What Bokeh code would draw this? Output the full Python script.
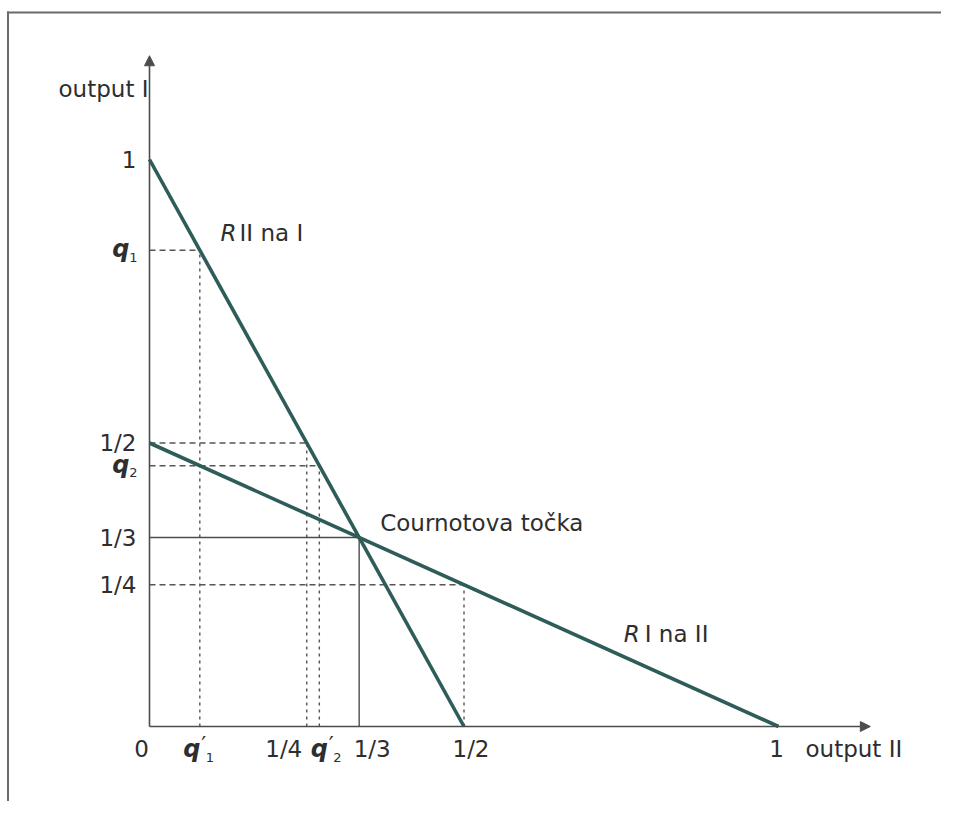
from bokeh.plotting import figure
from bokeh.models import ColumnDataSource, Arrow, NormalHead, Range1d
from bokeh.core.properties import value
from bokeh.embed import file_html
from bokeh.resources import INLINE

# ---------------- data ----------------
# reaction functions (straight lines between intercepts)
r2on1_x = [0.0, 0.5]      # R II na I
r2on1_y = [1.0, 0.0]
r1on2_x = [0.0, 1.0]      # R I na II
r1on2_y = [0.5, 0.0]
# cobweb outputs
q1p = 0.08
q1 = 0.84
q2 = 0.46
q2p = 0.27
# Cournot point
cournot_x = [1 / 3]
cournot_y = [1 / 3]
# dashed guide points (projected onto both axes)
guide_x = [q1p, 0.25, q2p, 0.5]
guide_y = [q1, 0.5, q2, 0.25]
# tick labels
y_tick_vals = [1.0, 0.5, 1 / 3, 0.25]
y_tick_labels = ["1", "1/2", "1/3", "1/4"]
x_tick_vals = [0.0, 0.25, 1 / 3, 0.5, 1.0]
x_tick_labels = ["0", "1/4", "1/3", "1/2", "1"]
yq_vals = [q1, q2]
yq_subs = ["1", "2"]
xq_vals = [q1p, q2p]
xq_subs = ["1", "2"]
axis_x_end = 1.146
axis_y_end = 1.183
label_r2on1 = (0.113, 0.871)
label_r1on2 = (0.754, 0.164)

# ---------------- styles / layout ----------------
W, H = 941, 801
UX, UY = 629.0, 567.0          # px per unit
OX, OY = 149.0, 726.0          # origin in canvas px
X0, X1 = -OX / UX, (W - OX) / UX
Y1, Y0 = OY / UY, (OY - H) / UY

TEAL = "#2e5c59"
AXIS = "#4d4d4d"
GUIDE = "#555555"
TXT = "#2e2e2e"
FONT = value("DejaVu Sans")
FS = "23px"

p = figure(width=W, height=H, x_range=Range1d(X0, X1), y_range=Range1d(Y0, Y1),
           x_axis_location=None, y_axis_location=None, toolbar_location=None,
           output_backend="svg", min_border=0)
p.outline_line_color = None
p.grid.grid_line_color = None
p.background_fill_color = "white"
p.border_fill_color = "white"

# frame border (top and left edges of the scanned figure box), derived from the ranges
bx = X0 + 7.5 / UX
by = Y1 - 12 / UY
p.segment(x0=[bx, bx], y0=[by, by], x1=[X1, bx], y1=[by, Y0],
          line_color="#6a6a6a", line_width=2, line_cap="square")

# dashed guides
gsrc = ColumnDataSource(dict(gx=guide_x, gy=guide_y, zero=[0.0] * len(guide_x)))
p.segment(x0="zero", y0="gy", x1="gx", y1="gy", source=gsrc,
          line_color=GUIDE, line_width=1.4, line_dash="6 4")
p.segment(x0="gx", y0="zero", x1="gx", y1="gy", source=gsrc,
          line_color=GUIDE, line_width=1.4, line_dash="3 4")
# solid guides to the Cournot point
csrc = ColumnDataSource(dict(cx=cournot_x, cy=cournot_y, zero=[0.0]))
p.segment(x0="zero", y0="cy", x1="cx", y1="cy", source=csrc, line_color=AXIS, line_width=1.4)
p.segment(x0="cx", y0="zero", x1="cx", y1="cy", source=csrc, line_color=AXIS, line_width=1.4)

# axes with arrow heads
p.add_layout(Arrow(end=NormalHead(size=10, fill_color=AXIS, line_color=AXIS),
                   x_start=0, y_start=0, x_end=0, y_end=axis_y_end,
                   line_color=AXIS, line_width=1.6))
p.add_layout(Arrow(end=NormalHead(size=10, fill_color=AXIS, line_color=AXIS),
                   x_start=0, y_start=0, x_end=axis_x_end, y_end=0,
                   line_color=AXIS, line_width=1.6))

# reaction lines
p.line(r2on1_x, r2on1_y, line_color=TEAL, line_width=3.6)
p.line(r1on2_x, r1on2_y, line_color=TEAL, line_width=3.6)

common = dict(text_font=FONT, text_color=TXT)

# y tick labels
p.text(x=[0.0] * len(y_tick_vals), y=y_tick_vals, text=y_tick_labels, x_offset=-13,
       text_align="right", text_baseline="middle", text_font_size=FS, **common)
p.text(x=[0.0] * len(yq_vals), y=yq_vals, text=["q"] * len(yq_vals), x_offset=-20, y_offset=-1,
       text_align="right", text_baseline="middle", text_font_size="24px",
       text_font_style="bold italic", **common)
p.text(x=[0.0] * len(yq_vals), y=yq_vals, text=yq_subs, x_offset=-12, y_offset=7,
       text_align="right", text_baseline="middle", text_font_size="13px", **common)

# x tick labels
xsrc = ColumnDataSource(dict(x=x_tick_vals, y=[0.0] * len(x_tick_vals), t=x_tick_labels,
                             dx=[-8, -23, 13, 7, -2]))
p.text(x="x", y="y", text="t", x_offset="dx", y_offset=22, source=xsrc,
       text_align="center", text_baseline="middle", text_font_size=FS, **common)
xqsrc = ColumnDataSource(dict(x=xq_vals, y=[0.0] * len(xq_vals), sub=xq_subs,
                              q=["q"] * len(xq_vals), pr=["\u2032"] * len(xq_vals),
                              dq=[-8, 0], dp=[4, 12], ds=[10, 18]))
p.text(x="x", y="y", text="q", x_offset="dq", y_offset=22, source=xqsrc,
       text_align="center", text_baseline="middle", text_font_size="24px",
       text_font_style="bold italic", **common)
p.text(x="x", y="y", text="pr", x_offset="dp", y_offset=18, source=xqsrc,
       text_align="center", text_baseline="middle", text_font_size="22px", **common)
p.text(x="x", y="y", text="sub", x_offset="ds", y_offset=31, source=xqsrc,
       text_align="center", text_baseline="middle", text_font_size="13px", **common)

# axis titles
p.text(x=[0.0], y=[axis_y_end], text=["output I"], x_offset=-1, y_offset=33,
       text_align="right", text_baseline="middle", text_font_size=FS, **common)
p.text(x=[1.0], y=[0.0], text=["output II"], x_offset=27, y_offset=22,
       text_align="left", text_baseline="middle", text_font_size=FS, **common)

# curve labels
p.text(x=cournot_x, y=cournot_y, text=["Cournotova točka"], x_offset=21, y_offset=-15,
       text_align="left", text_baseline="middle", text_font_size=FS, **common)
p.text(x=[label_r2on1[0]], y=[label_r2on1[1]], text=["R"], text_align="left",
       text_baseline="middle", text_font_size=FS, text_font_style="italic", **common)
p.text(x=[label_r2on1[0]], y=[label_r2on1[1]], text=["II na I"], x_offset=19, text_align="left",
       text_baseline="middle", text_font_size=FS, **common)
p.text(x=[label_r1on2[0]], y=[label_r1on2[1]], text=["R"], text_align="left",
       text_baseline="middle", text_font_size=FS, text_font_style="italic", **common)
p.text(x=[label_r1on2[0]], y=[label_r1on2[1]], text=["I na II"], x_offset=21, text_align="left",
       text_baseline="middle", text_font_size=FS, **common)

open("out.html", "w").write(file_html(p, INLINE))
